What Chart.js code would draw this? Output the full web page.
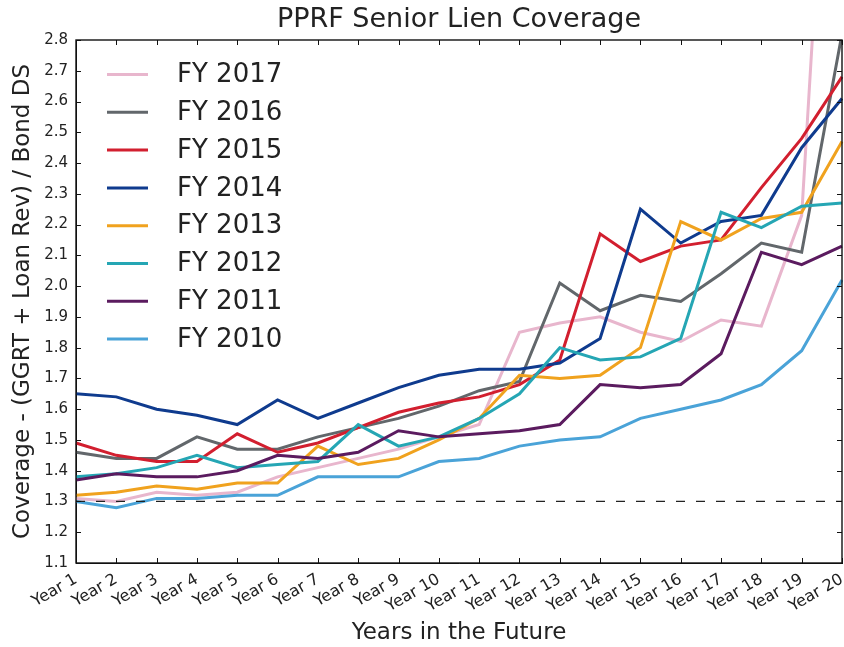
<!DOCTYPE html>
<html>
<head>
<meta charset="utf-8">
<script src="https://cdn.jsdelivr.net/npm/chart.js@4.4.1/dist/chart.umd.min.js"></script>
<style>
  html, body { margin: 0; padding: 0; background: #fff; }
  #wrap { width: 844px; height: 647px; }
</style>
</head>
<body>
<div id="wrap"><canvas id="myChart" width="844" height="647"></canvas></div>
<script>
// years along the x axis
const yearLabels = [
    "Year 1", "Year 2", "Year 3", "Year 4", "Year 5", "Year 6", "Year 7",
    "Year 8", "Year 9", "Year 10", "Year 11", "Year 12", "Year 13", "Year 14",
    "Year 15", "Year 16", "Year 17", "Year 18", "Year 19", "Year 20"
];

// coverage ratio per fiscal year forecast
const fy2017 = [1.31, 1.30, 1.33, 1.32, 1.33, 1.38, 1.41, 1.44, 1.47, 1.51, 1.55, 1.85, 1.88, 1.90, 1.85, 1.82, 1.89, 1.87, 2.23, 4.40];
const fy2016 = [1.46, 1.44, 1.44, 1.51, 1.47, 1.47, 1.51, 1.54, 1.57, 1.61, 1.66, 1.69, 2.01, 1.92, 1.97, 1.95, 2.04, 2.14, 2.11, 2.82];
const fy2015 = [1.49, 1.45, 1.43, 1.43, 1.52, 1.46, 1.49, 1.54, 1.59, 1.62, 1.64, 1.68, 1.76, 2.17, 2.08, 2.13, 2.15, 2.32, 2.48, 2.68];
const fy2014 = [1.65, 1.64, 1.60, 1.58, 1.55, 1.63, 1.57, 1.62, 1.67, 1.71, 1.73, 1.73, 1.75, 1.83, 2.25, 2.14, 2.21, 2.23, 2.45, 2.61];
const fy2013 = [1.32, 1.33, 1.35, 1.34, 1.36, 1.36, 1.48, 1.42, 1.44, 1.50, 1.57, 1.71, 1.70, 1.71, 1.80, 2.21, 2.15, 2.22, 2.24, 2.47];
const fy2012 = [1.38, 1.39, 1.41, 1.45, 1.41, 1.42, 1.43, 1.55, 1.48, 1.51, 1.57, 1.65, 1.80, 1.76, 1.77, 1.83, 2.24, 2.19, 2.26, 2.27];
const fy2011 = [1.37, 1.39, 1.38, 1.38, 1.40, 1.45, 1.44, 1.46, 1.53, 1.51, 1.52, 1.53, 1.55, 1.68, 1.67, 1.68, 1.78, 2.11, 2.07, 2.13];
const fy2010 = [1.30, 1.28, 1.31, 1.31, 1.32, 1.32, 1.38, 1.38, 1.38, 1.43, 1.44, 1.48, 1.50, 1.51, 1.57, 1.60, 1.63, 1.68, 1.79, 2.02];

// minimum required coverage (dashed line)
const minCoverage = 1.3;

const FONT = "'DejaVu Sans', sans-serif";
const chartTitle = "PPRF Senior Lien Coverage";

function series(label, data, color) {
    return {
        label: label,
        data: data,
        borderColor: color,
        backgroundColor: color,
        borderWidth: 3,
        pointRadius: 0,
        tension: 0,
        fill: false
    };
}

var datasets = [
    {
        label: "",
        data: yearLabels.map(function () { return minCoverage; }),
        borderColor: "#222",
        borderWidth: 1.3,
        borderDash: [9, 11],
        pointRadius: 0,
        fill: false,
        isRef: true
    },
    series("FY 2010", fy2010, "#4aa3d8"),
    series("FY 2011", fy2011, "#5b1b5f"),
    series("FY 2012", fy2012, "#25a6b4"),
    series("FY 2013", fy2013, "#f0a21e"),
    series("FY 2014", fy2014, "#0f3b8e"),
    series("FY 2015", fy2015, "#d21f2f"),
    series("FY 2016", fy2016, "#62676b"),
    series("FY 2017", fy2017, "#e8b6cd")
];

// title centred over the plot area (matplotlib style), not the canvas
const plotTitle = {
    id: "plotTitle",
    afterDraw: function (chart) {
        var ctx = chart.ctx;
        var a = chart.chartArea;
        ctx.save();
        ctx.font = "27px " + FONT;
        ctx.fillStyle = "#222";
        ctx.textAlign = "center";
        ctx.textBaseline = "middle";
        ctx.fillText(chartTitle, (a.left + a.right) / 2, 20);
        ctx.restore();
    }
};

// legend drawn inside the plot, newest year first, like the original
const insideLegend = {
    id: "insideLegend",
    afterDatasetsDraw: function (chart) {
        var ctx = chart.ctx;
        var area = chart.chartArea;
        var items = chart.data.datasets.filter(function (d) { return !d.isRef; }).reverse();
        ctx.save();
        ctx.font = "26px " + FONT;
        ctx.textBaseline = "middle";
        ctx.fillStyle = "#222";
        items.forEach(function (d, i) {
            var y = area.top + 34.5 + i * 37.8;
            ctx.strokeStyle = d.borderColor;
            ctx.lineWidth = 3;
            ctx.beginPath();
            ctx.moveTo(area.left + 31, y);
            ctx.lineTo(area.left + 72, y);
            ctx.stroke();
            ctx.fillText(d.label, area.left + 101, y + 1);
        });
        ctx.restore();
    }
};

// frame with ticks pointing inwards on all four sides
const frameTicks = {
    id: "frameTicks",
    afterDraw: function (chart) {
        var ctx = chart.ctx;
        var a = chart.chartArea;
        var xs = chart.scales.x;
        var ys = chart.scales.y;
        ctx.save();
        ctx.strokeStyle = "#111";
        ctx.lineWidth = 1.4;
        ctx.strokeRect(a.left, a.top, a.right - a.left, a.bottom - a.top);
        ctx.lineWidth = 1;
        ctx.beginPath();
        xs.ticks.forEach(function (t, i) {
            var px = Math.round(xs.getPixelForTick(i)) + 0.5;
            ctx.moveTo(px, a.bottom); ctx.lineTo(px, a.bottom - 5);
            ctx.moveTo(px, a.top); ctx.lineTo(px, a.top + 5);
        });
        ys.ticks.forEach(function (t) {
            var py = Math.round(ys.getPixelForValue(t.value)) + 0.5;
            ctx.moveTo(a.left, py); ctx.lineTo(a.left + 5, py);
            ctx.moveTo(a.right, py); ctx.lineTo(a.right - 5, py);
        });
        ctx.stroke();
        ctx.restore();
    }
};

var ctx = document.getElementById("myChart").getContext("2d");
var chart = new Chart(ctx, {
    type: "line",
    data: {
        labels: yearLabels,
        datasets: datasets
    },
    options: {
        responsive: false,
        animation: false,
        events: [],
        layout: { padding: { left: 0, right: 2, top: 40, bottom: 0 } },
        plugins: {
            legend: { display: false },
            tooltip: { enabled: false },
            title: { display: false }
        },
        scales: {
            x: {
                offset: false,
                grid: { display: false, drawTicks: false },
                border: { display: true, color: "#111", width: 1 },
                ticks: {
                    autoSkip: false,
                    maxRotation: 30,
                    minRotation: 30,
                    padding: 7,
                    color: "#222",
                    font: { family: FONT, size: 16 }
                },
                title: {
                    display: true,
                    text: "Years in the Future",
                    color: "#222",
                    font: { family: FONT, size: 23 },
                    padding: { top: 0, bottom: 0 }
                },
                afterFit: function (scale) {
                    scale.height = 84;
                    scale.paddingLeft = 0;
                    scale.paddingRight = 0;
                }
            },
            y: {
                min: 1.1,
                max: 2.8,
                grid: { display: false, drawTicks: false },
                border: { display: true, color: "#111", width: 1 },
                ticks: {
                    stepSize: 0.1,
                    padding: 8,
                    color: "#222",
                    font: { family: FONT, size: 15 },
                    callback: function (v) { return Number(v).toFixed(1); }
                },
                title: {
                    display: true,
                    text: "Coverage - (GGRT + Loan Rev) / Bond DS",
                    color: "#222",
                    font: { family: FONT, size: 23 },
                    padding: { top: 9, bottom: 0 }
                },
                afterFit: function (scale) { scale.width = 76; }
            }
        }
    },
    plugins: [insideLegend, frameTicks, plotTitle]
});
</script>
</body>
</html>
